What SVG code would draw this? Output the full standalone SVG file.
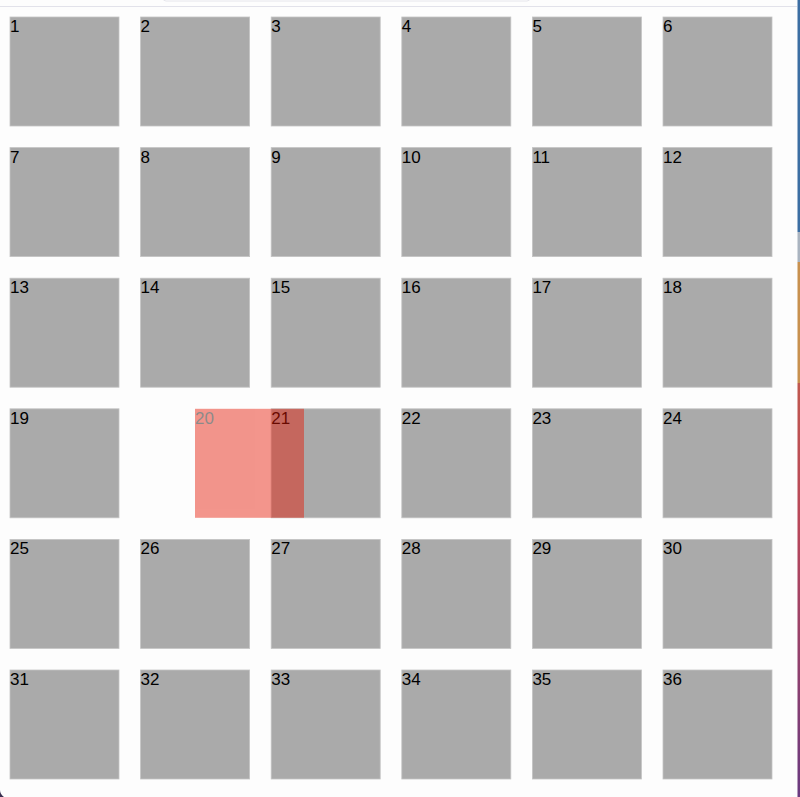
<svg xmlns="http://www.w3.org/2000/svg" width="800" height="797" viewBox="0 0 800 797">
<defs>
<style>
.tile rect{fill:#aaaaaa;stroke:#c4c4c4;stroke-width:0.8}
.tile text{font-family:"Liberation Sans",Arial,sans-serif;font-size:17px;fill:#000}
</style>
<linearGradient id="edge" x1="0" y1="0" x2="0" y2="1">
<stop offset="0" stop-color="#c0584f"/>
<stop offset="0.35" stop-color="#b8475a"/>
<stop offset="1" stop-color="#6a3a80"/>
</linearGradient>
</defs>
<rect x="0" y="0" width="800" height="797" fill="#fdfdfd"/>
<!-- window chrome -->
<rect x="163" y="-6" width="367" height="7" rx="3" fill="#fdfdfd" stroke="#e6e6ec" stroke-width="1"/>
<line x1="0" y1="6.5" x2="797" y2="6.5" stroke="#e2e2ea" stroke-width="1"/>
<rect x="797.5" y="0" width="2.5" height="232" fill="#3c6ea3"/>
<rect x="797.5" y="232" width="2.5" height="30" fill="#aab4c0"/>
<rect x="797.5" y="262" width="2.5" height="121" fill="#c8914f"/>
<rect x="797.5" y="383" width="2.5" height="414" fill="url(#edge)"/>
<path d="M0 797 L0 790 Q0 794 4 797 Z" fill="#3a3050"/>
<g id="tiles">
<g id="n1" class="tile"><rect x="10" y="17" width="109" height="109"/><text x="10" y="32">1</text></g>
<g id="n2" class="tile"><rect x="140.6" y="17" width="109" height="109"/><text x="140.6" y="32">2</text></g>
<g id="n3" class="tile"><rect x="271.2" y="17" width="109" height="109"/><text x="271.2" y="32">3</text></g>
<g id="n4" class="tile"><rect x="401.8" y="17" width="109" height="109"/><text x="401.8" y="32">4</text></g>
<g id="n5" class="tile"><rect x="532.4" y="17" width="109" height="109"/><text x="532.4" y="32">5</text></g>
<g id="n6" class="tile"><rect x="663" y="17" width="109" height="109"/><text x="663" y="32">6</text></g>

<g id="n7" class="tile"><rect x="10" y="147.6" width="109" height="109"/><text x="10" y="162.6">7</text></g>
<g id="n8" class="tile"><rect x="140.6" y="147.6" width="109" height="109"/><text x="140.6" y="162.6">8</text></g>
<g id="n9" class="tile"><rect x="271.2" y="147.6" width="109" height="109"/><text x="271.2" y="162.6">9</text></g>
<g id="n10" class="tile"><rect x="401.8" y="147.6" width="109" height="109"/><text x="401.8" y="162.6">10</text></g>
<g id="n11" class="tile"><rect x="532.4" y="147.6" width="109" height="109"/><text x="532.4" y="162.6">11</text></g>
<g id="n12" class="tile"><rect x="663" y="147.6" width="109" height="109"/><text x="663" y="162.6">12</text></g>

<g id="n13" class="tile"><rect x="10" y="278.2" width="109" height="109"/><text x="10" y="293.2">13</text></g>
<g id="n14" class="tile"><rect x="140.6" y="278.2" width="109" height="109"/><text x="140.6" y="293.2">14</text></g>
<g id="n15" class="tile"><rect x="271.2" y="278.2" width="109" height="109"/><text x="271.2" y="293.2">15</text></g>
<g id="n16" class="tile"><rect x="401.8" y="278.2" width="109" height="109"/><text x="401.8" y="293.2">16</text></g>
<g id="n17" class="tile"><rect x="532.4" y="278.2" width="109" height="109"/><text x="532.4" y="293.2">17</text></g>
<g id="n18" class="tile"><rect x="663" y="278.2" width="109" height="109"/><text x="663" y="293.2">18</text></g>

<g id="n19" class="tile"><rect x="10" y="408.8" width="109" height="109"/><text x="10" y="423.8">19</text></g>
<g id="n21" class="tile"><rect x="271.2" y="408.8" width="109" height="109"/><text x="271.2" y="423.8">21</text></g>
<g id="n22" class="tile"><rect x="401.8" y="408.8" width="109" height="109"/><text x="401.8" y="423.8">22</text></g>
<g id="n23" class="tile"><rect x="532.4" y="408.8" width="109" height="109"/><text x="532.4" y="423.8">23</text></g>
<g id="n24" class="tile"><rect x="663" y="408.8" width="109" height="109"/><text x="663" y="423.8">24</text></g>

<g id="n25" class="tile"><rect x="10" y="539.4" width="109" height="109"/><text x="10" y="554.4">25</text></g>
<g id="n26" class="tile"><rect x="140.6" y="539.4" width="109" height="109"/><text x="140.6" y="554.4">26</text></g>
<g id="n27" class="tile"><rect x="271.2" y="539.4" width="109" height="109"/><text x="271.2" y="554.4">27</text></g>
<g id="n28" class="tile"><rect x="401.8" y="539.4" width="109" height="109"/><text x="401.8" y="554.4">28</text></g>
<g id="n29" class="tile"><rect x="532.4" y="539.4" width="109" height="109"/><text x="532.4" y="554.4">29</text></g>
<g id="n30" class="tile"><rect x="663" y="539.4" width="109" height="109"/><text x="663" y="554.4">30</text></g>

<g id="n31" class="tile"><rect x="10" y="670" width="109" height="109"/><text x="10" y="685">31</text></g>
<g id="n32" class="tile"><rect x="140.6" y="670" width="109" height="109"/><text x="140.6" y="685">32</text></g>
<g id="n33" class="tile"><rect x="271.2" y="670" width="109" height="109"/><text x="271.2" y="685">33</text></g>
<g id="n34" class="tile"><rect x="401.8" y="670" width="109" height="109"/><text x="401.8" y="685">34</text></g>
<g id="n35" class="tile"><rect x="532.4" y="670" width="109" height="109"/><text x="532.4" y="685">35</text></g>
<g id="n36" class="tile"><rect x="663" y="670" width="109" height="109"/><text x="663" y="685">36</text></g>

<g id="n20" opacity="0.45"><rect x="195" y="408.8" width="109" height="109" fill="#e61602"/><text x="195" y="423.8" font-family="Liberation Sans, Arial, sans-serif" font-size="17" fill="#000">20</text></g>
</g>
<g id="connectors"/>
</svg>
